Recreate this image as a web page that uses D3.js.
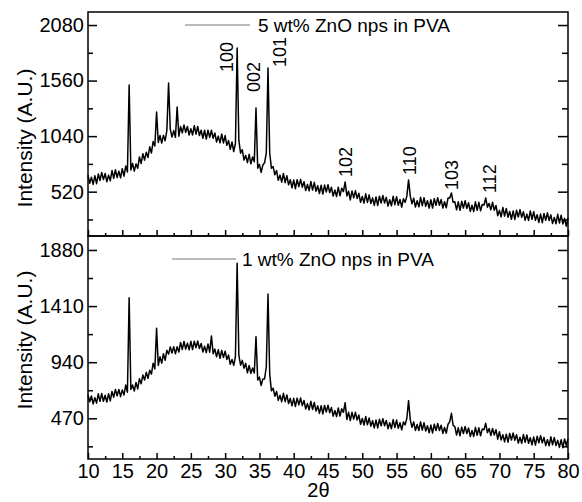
<!DOCTYPE html>
<html>
<head>
<meta charset="utf-8">
<script src="https://cdn.jsdelivr.net/npm/d3@7"></script>
<style>
  body { margin: 0; background: #fff; }
  svg text { font-family: "Liberation Sans", Arial, sans-serif; fill: #000; }
</style>
</head>
<body>
<svg id="chart" width="582" height="502"></svg>
<script>
// 2θ sampling grid (degrees), 0.25° steps from 10 to 80
const thetaStart = 10, thetaStep = 0.25;

// 5 wt% ZnO nps in PVA (one row per degree)
const i5wt = [
  675, 598, 655, 588,  670, 595, 685, 625,  700, 633, 690, 612,  675, 623, 718, 645,
  725, 651, 712, 649,  735, 665, 760, 705,  1519, 722, 785, 712,  780, 739, 845, 784,
  875, 815, 890, 840,  940, 882, 990, 948,  1266, 980, 1046, 976,  1047, 997, 1094, 1537,
  1105, 1031, 1092, 1029,  1313, 1039, 1130, 1070,  1145, 1075, 1130, 1050,  1110, 1051, 1138, 1058,
  1130, 1045, 1095, 1020,  1095, 1012, 1095, 1028,  1095, 1020, 1070, 985,  1040, 977, 1060, 976,
  1045, 954, 998, 916,  985, 896, 972, 1864,  1000, 880, 913, 816,  860, 792, 870, 781,
  845, 800, 1303, 740,  775, 700, 770, 790,  880, 1677, 880, 740,  755, 678, 718, 626,
  675, 609, 690, 604,  670, 584, 632, 556,  630, 548, 632, 567,  635, 562, 613, 530,
  587, 528, 615, 535,  607, 524, 576, 503,  580, 498, 582, 516,  585, 511, 562, 479,
  535, 475, 562, 481,  553, 520, 611, 480,  525, 443, 527, 462,  530, 455, 505, 420,
  475, 414, 500, 419,  490, 409, 462, 391,  470, 391, 478, 414,  485, 414, 467, 386,
  445, 388, 477, 398,  473, 392, 446, 375,  454, 420, 480, 630,  478, 406, 459, 376,
  435, 378, 467, 389,  463, 382, 436, 366,  445, 367, 455, 392,  464, 393, 447, 366,
  425, 370, 460, 460,  508, 420, 425, 350,  425, 345, 430, 366,  435, 363, 416, 335,
  393, 335, 425, 346,  420, 341, 400, 395,  461, 375, 410, 350,  420, 345, 390, 295,
  345, 285, 372, 291,  363, 281, 334, 262,  340, 260, 346, 282,  352, 280, 333, 252,
  310, 251, 340, 260,  333, 251, 304, 232,  310, 230, 316, 252,  322, 250, 303, 221,
  279, 220, 308, 227,  300, 218, 270, 198,  276
];

// 1 wt% ZnO nps in PVA (one row per degree)
const i1wt = [
  665, 608, 657, 590,  643, 597, 675, 612,  678, 613, 663, 606,  676, 616, 695, 647,
  712, 659, 712, 651,  708, 665, 748, 689,  1480, 711, 749, 698,  770, 716, 802, 760,
  832, 790, 855, 804,  873, 840, 932, 884,  1224, 913, 985, 932,  1011, 956, 1040, 1007,
  1067, 1016, 1070, 1011,  1069, 1025, 1105, 1046,  1113, 1049, 1100, 1044,  1115, 1046, 1116, 1060,
  1117, 1054, 1097, 1026,  1073, 1020, 1093, 1024,  1160, 1011, 1050, 985,  1045, 973, 1039, 979,
  1032, 963, 1000, 922,  963, 913, 987, 1768,  1000, 915, 955, 890,  930, 851, 912, 846,
  892, 850, 1154, 790,  815, 745, 800, 800,  900, 1511, 840, 700,  722, 655, 695, 620,
  663, 609, 679, 609,  666, 594, 637, 574,  637, 569, 639, 582,  640, 577, 619, 547,
  593, 540, 612, 544,  603, 531, 574, 511,  575, 507, 578, 522,  580, 517, 560, 488,
  535, 484, 557, 489,  550, 520, 601, 460,  520, 451, 520, 463,  520, 455, 497, 420,
  468, 414, 485, 415,  473, 404, 450, 389,  455, 389, 462, 407,  467, 407, 452, 383,
  433, 383, 459, 393,  455, 386, 433, 373,  439, 415, 470, 618,  457, 395, 440, 368,
  418, 367, 440, 371,  433, 363, 408, 348,  413, 347, 420, 367,  427, 367, 412, 343,
  393, 345, 420, 440,  512, 410, 400, 330,  390, 324, 396, 342,  402, 342, 388, 318,
  368, 318, 394, 328,  390, 323, 380, 375,  428, 350, 385, 325,  385, 330, 375, 295,
  358, 288, 333, 272,  337, 270, 343, 288,  347, 286, 332, 262,  311, 261, 335, 269,
  330, 261, 307, 247,  313, 246, 319, 265,  324, 264, 310, 241,  291, 240, 315, 248,
  310, 241, 285, 226,  291, 224, 297, 242,  298
];

// axis ticks
const xTicks = [10, 15, 20, 25, 30, 35, 40, 45, 50, 55, 60, 65, 70, 75, 80];
const topTicks = [520, 1040, 1560, 2080];
const bottomTicks = [470, 940, 1410, 1880];

// peak labels (Miller indices) for the top panel: label centre 2θ, foot intensity
const hkl = ["100", "002", "101", "102", "110", "103", "112"];
const hklTheta = [30.2, 34.15, 37.93, 47.55, 56.96, 63.0, 68.55];
const hklLevel = [1640, 1453, 1687, 658, 676, 536, 508];

const svg = d3.select("#chart");
const left = 88, right = 568;

const x = d3.scaleLinear().domain([10, 80]).range([left, right]);

const panels = [
  { values: i5wt, ticks: topTicks, domain: [105, 2202], top: 12, bottom: 236,
    legend: "5 wt% ZnO nps in PVA", legX: [185, 250], legY: 25, textX: 258, textY: 32, titleY: 138 },
  { values: i1wt, ticks: bottomTicks, domain: [129, 1997], top: 236, bottom: 459,
    legend: "1 wt% ZnO nps in PVA", legX: [172, 236], legY: 259, textX: 242, textY: 266, titleY: 340 }
];

panels.forEach((p, k) => {
  const y = d3.scaleLinear().domain(p.domain).range([p.bottom, p.top]);
  const step = p.ticks[0];
  const minor = p.ticks.map(t => t - step / 2);

  const data = p.values.map((v, i) => [thetaStart + i * thetaStep, v]);

  svg.append("path")
      .datum(data)
      .attr("fill", "none")
      .attr("stroke", "#000")
      .attr("stroke-width", 1.5)
      .attr("stroke-linejoin", "round")
      .attr("d", d3.line().x(d => x(d[0])).y(d => y(d[1])));

  // left axis, ticks pointing inward
  svg.append("g").attr("transform", `translate(${left},0)`)
      .call(d3.axisLeft(y).tickValues(p.ticks).tickSize(-9).tickPadding(4).tickFormat(d3.format("d")));
  svg.append("g").attr("transform", `translate(${left},0)`)
      .call(d3.axisLeft(y).tickValues(minor).tickSize(-5).tickFormat(""));
  svg.append("g").attr("transform", `translate(${right},0)`)
      .call(d3.axisRight(y).tickValues(p.ticks).tickSize(-10).tickFormat(""));
  svg.append("g").attr("transform", `translate(${right},0)`)
      .call(d3.axisRight(y).tickValues(minor).tickSize(-6).tickFormat(""));

  // bottom axis
  svg.append("g").attr("transform", `translate(0,${p.bottom})`)
      .call(d3.axisBottom(x).tickValues(xTicks).tickSize(-6).tickPadding(5)
        .tickFormat(k === 1 ? d3.format("d") : ""));
  svg.append("g").attr("transform", `translate(0,${p.bottom})`)
      .call(d3.axisBottom(x).tickValues(xTicks.slice(1).map(t => t - 2.5)).tickSize(-3).tickFormat(""));

  svg.selectAll(".domain").remove();
  svg.selectAll(".tick line").attr("stroke", "#000").attr("stroke-width", 1.5);
  svg.selectAll(".tick text").style("font-size", "20px")
      .style("font-family", "'Liberation Sans', Arial, sans-serif");

  // frame
  svg.append("rect")
      .attr("x", left).attr("y", p.top)
      .attr("width", right - left).attr("height", p.bottom - p.top)
      .attr("fill", "none").attr("stroke", "#000").attr("stroke-width", 1.5);

  // legend
  svg.append("line")
      .attr("x1", p.legX[0]).attr("x2", p.legX[1])
      .attr("y1", p.legY).attr("y2", p.legY)
      .attr("stroke", "#777").attr("stroke-width", 1);
  svg.append("text")
      .attr("x", p.textX).attr("y", p.textY)
      .style("font-size", "19px")
      .text(p.legend);

  // y title
  svg.append("text")
      .attr("transform", `translate(32,${p.titleY}) rotate(-90)`)
      .attr("text-anchor", "middle")
      .style("font-size", "21px")
      .text("Intensity (A.U.)");

  if (k === 0) {
    svg.selectAll(".hkl")
        .data(hkl)
        .enter()
        .append("text")
        .attr("class", "hkl")
        .attr("transform", (d, i) => `translate(${x(hklTheta[i])},${y(hklLevel[i])}) rotate(-90)`)
        .attr("dy", "0.35em")
        .style("font-size", "18px")
        .text(d => d);
  }
});

// x title
svg.append("text")
    .attr("x", x(43.6)).attr("y", 497)
    .attr("text-anchor", "middle")
    .style("font-size", "20px")
    .text("2θ");
</script>
</body>
</html>
